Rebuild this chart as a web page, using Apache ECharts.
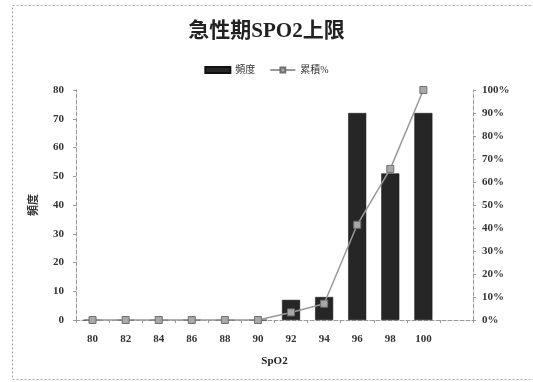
<!DOCTYPE html>
<html>
<head>
<meta charset="utf-8">
<script src="https://cdn.jsdelivr.net/npm/echarts@6/dist/echarts.min.js"></script>
<style>
  html, body { margin: 0; padding: 0; background: #fff; }
  #chart { width: 533px; height: 382px; }
</style>
</head>
<body>
<div id="chart"></div>
<script>
// SpO2 upper-limit bins (the last slot is the empty "next bin" column)
const categories = ['80', '82', '84', '86', '88', '90', '92', '94', '96', '98', '100', ''];
// Frequency per bin
const frequency = [0, 0, 0, 0, 0, 0, 7, 8, 72, 51, 72, null];
// Cumulative percentage per bin
const cumulative = [0, 0, 0, 0, 0, 0, 3.3, 7.1, 41.4, 65.7, 100, null];
const leftTicks = [0, 80, 10];
const rightTicks = [0, 100, 10];

const serif = '"Liberation Serif", "DejaVu Serif", "Noto Sans CJK JP", serif';
const axisGrey = '#9a9a9a';

const chart = echarts.init(document.getElementById('chart'), null, { renderer: 'canvas' });
chart.setOption({
  animation: false,
  backgroundColor: '#fff',
  graphic: [{
    type: 'rect',
    shape: { x: 12.5, y: 5.5, width: 530, height: 374 },
    style: { fill: 'none', stroke: '#aaa', lineWidth: 1, lineDash: [2, 2] },
    silent: true
  }],
  title: {
    text: '急性期SPO2上限',
    left: 'center',
    top: 16,
    textStyle: { fontFamily: serif, fontSize: 21, fontWeight: 'bold', color: '#222' }
  },
  legend: {
    top: 60,
    left: 'center',
    itemGap: 14,
    itemWidth: 25,
    itemHeight: 6,
    textStyle: { fontFamily: serif, fontSize: 10, color: '#333' },
    data: [
      { name: '頻度', icon: 'rect' },
      { name: '累積%' }
    ]
  },
  grid: { left: 76, right: 60, top: 90, bottom: 62, containLabel: false },
  xAxis: {
    type: 'category',
    data: categories,
    name: 'SpO2',
    nameLocation: 'middle',
    nameGap: 36,
    nameTextStyle: { fontFamily: serif, fontSize: 11, fontWeight: 'bold', color: '#222' },
    axisLine: { lineStyle: { color: axisGrey, type: 'dashed', width: 1 } },
    axisTick: { show: true, alignWithLabel: false, length: 3, lineStyle: { color: axisGrey } },
    axisLabel: { fontFamily: serif, fontSize: 11, fontWeight: 'bold', color: '#333', margin: 14 }
  },
  yAxis: [{
    type: 'value',
    min: leftTicks[0], max: leftTicks[1], interval: leftTicks[2],
    name: '頻度',
    nameLocation: 'middle',
    nameGap: 36,
    nameRotate: 90,
    nameTextStyle: { fontFamily: serif, fontSize: 11, fontWeight: 'bold', color: '#333' },
    axisLine: { show: true, lineStyle: { color: axisGrey, type: 'dashed', width: 1 } },
    axisTick: { show: true, length: 3, lineStyle: { color: axisGrey } },
    splitLine: { show: false },
    axisLabel: { fontFamily: serif, fontSize: 11, fontWeight: 'bold', color: '#333', margin: 12 }
  }, {
    type: 'value',
    min: rightTicks[0], max: rightTicks[1], interval: rightTicks[2],
    axisLine: { show: true, lineStyle: { color: axisGrey, type: 'dashed', width: 1 } },
    axisTick: { show: true, length: 3, lineStyle: { color: axisGrey } },
    splitLine: { show: false },
    axisLabel: { fontFamily: serif, fontSize: 11, fontWeight: 'bold', color: '#333', margin: 9, formatter: '{value}%' }
  }],
  series: [{
    name: '頻度',
    type: 'bar',
    yAxisIndex: 0,
    data: frequency,
    barWidth: 18,
    itemStyle: { color: '#262626', borderColor: '#111', borderWidth: 0.5 }
  }, {
    name: '累積%',
    type: 'line',
    yAxisIndex: 1,
    data: cumulative,
    symbol: 'rect',
    symbolSize: 7,
    lineStyle: { color: '#999', width: 1.5 },
    itemStyle: { color: '#a8a8a8', borderColor: '#707070', borderWidth: 1 }
  }]
});
</script>
</body>
</html>
